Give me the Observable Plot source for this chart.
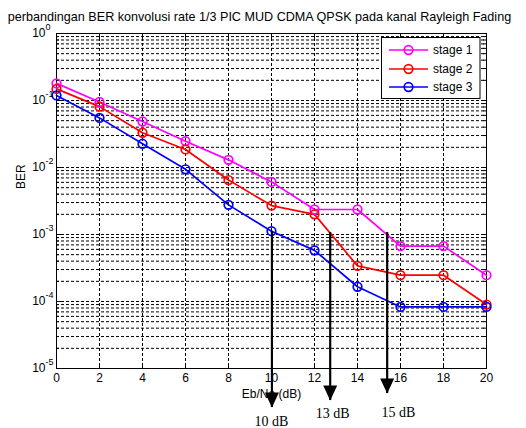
<!DOCTYPE html>
<html><head><meta charset="utf-8">
<script src="https://cdn.jsdelivr.net/npm/d3@7"></script>
<script src="https://cdn.jsdelivr.net/npm/@observablehq/plot@0.6"></script>
<style>html,body{margin:0;padding:0;background:#fff;} #chart{width:526px;height:428px;}</style>
</head><body><div id="chart"></div>
<script>
const titleText = "perbandingan BER konvolusi rate 1/3 PIC MUD CDMA QPSK pada kanal Rayleigh Fading";
const xLabel = "Eb/No (dB)";
const yLabel = "BER";
const ebno = [0, 2, 4, 6, 8, 10, 12, 14, 16, 18, 20];
const seriesNames = ["stage 1", "stage 2", "stage 3"];
const seriesColors = ["#ff00ff", "#ff0000", "#0000ff"];
const stage1 = [0.18, 0.095, 0.0486, 0.0247, 0.013, 0.0061, 0.00236, 0.00236, 0.00067, 0.00067, 0.000247];
const stage2 = [0.149, 0.081, 0.033, 0.0186, 0.0065, 0.0027, 0.002, 0.00034, 0.000247, 0.000247, 0.00009];
const stage3 = [0.119, 0.055, 0.0226, 0.0094, 0.00277, 0.00112, 0.00058, 0.000166, 0.000083, 0.000083, 0.000083];
const xTicks = [0, 2, 4, 6, 8, 10, 12, 14, 16, 18, 20];
const yTickValues = [1, 1e-1, 1e-2, 1e-3, 1e-4, 1e-5];
const yTickExponents = ["0", "-1", "-2", "-3", "-4", "-5"];
// annotation arrows
const arrowX = [10.02, 12.73, 15.38];
const arrowTop = [0.00112, 0.00107, 0.00107];
const arrowTip = [2.62e-6, 3.33e-6, 4.24e-6];
const arrowLabels = ["10 dB", "13 dB", "15 dB"];
const arrowLabelX = [10.0, 12.85, 15.9];
const arrowLabelY = [1.62e-6, 2.13e-6, 2.2e-6];

const allSeries = [stage1, stage2, stage3];
const data = [];
allSeries.forEach((s, k) => s.forEach((v, i) => data.push({x: ebno[i], y: v, series: seriesNames[k]})));

const minorY = [];
for (let e = -5; e < 0; e++) for (let m = 2; m <= 9; m++) minorY.push(m * Math.pow(10, e));
const gridY = minorY.concat(yTickValues.slice(1, 5));
const gridX = xTicks.slice(1, -1);

const arrows = arrowX.map((x, i) => ({x, top: arrowTop[i], tip: arrowTip[i], label: arrowLabels[i], lx: arrowLabelX[i], ly: arrowLabelY[i]}));
const yTicksData = yTickValues.map((v, i) => ({v, e: yTickExponents[i]}));

const downTriangle = {draw(ctx) { ctx.moveTo(0, 0); ctx.lineTo(-7, -15); ctx.lineTo(7, -15); ctx.closePath(); }};

const font = "Liberation Sans, Arial, sans-serif";
const W = 526, H = 428, mL = 56, mR = 40, mT = 33, mB = 60;
const fw = W - mL - mR, fh = H - mT - mB;

const svg = Plot.plot({
  width: W, height: H,
  marginLeft: mL, marginRight: mR, marginTop: mT, marginBottom: mB,
  style: {fontFamily: font, background: "#fff", overflow: "visible"},
  x: {domain: [0, 20], axis: null},
  y: {type: "log", domain: [1e-5, 1], axis: null},
  color: {domain: seriesNames, range: seriesColors},
  marks: [
    Plot.ruleY(gridY, {y: d => d, stroke: "#000", strokeWidth: 1, strokeDasharray: "3,2"}),
    Plot.ruleX(gridX, {x: d => d, stroke: "#000", strokeWidth: 1, strokeDasharray: "3,2"}),
    // inward ticks
    Plot.tickX(xTicks, {x: d => d, insetTop: fh - 5, stroke: "#000"}),
    Plot.tickX(xTicks, {x: d => d, insetBottom: fh - 5, stroke: "#000"}),
    Plot.tickY(yTickValues, {y: d => d, insetRight: fw - 5, stroke: "#000"}),
    Plot.tickY(yTickValues, {y: d => d, insetLeft: fw - 5, stroke: "#000"}),
    Plot.tickY(minorY, {y: d => d, insetRight: fw - 3, stroke: "#000"}),
    Plot.tickY(minorY, {y: d => d, insetLeft: fw - 3, stroke: "#000"}),
    Plot.frame({stroke: "#000", strokeWidth: 1}),
    Plot.line(data, {x: "x", y: "y", z: "series", stroke: "series", strokeWidth: 1.7}),
    Plot.dot(data, {x: "x", y: "y", stroke: "series", r: 4.3, strokeWidth: 1.7, fill: "none"}),
    // tick labels
    Plot.text(xTicks, {x: d => d, frameAnchor: "bottom", dy: 13, text: d => String(d), fontSize: 12, fill: "#000"}),
    Plot.text(yTicksData, {y: "v", frameAnchor: "left", dx: -11, textAnchor: "end", text: () => "10", fontSize: 12, fill: "#000"}),
    Plot.text(yTicksData, {y: "v", frameAnchor: "left", dx: -11, dy: -6, textAnchor: "start", text: "e", fontSize: 9, fill: "#000"}),
    // axis labels and title
    Plot.text([xLabel], {frameAnchor: "bottom", dy: 29, text: d => d, fontSize: 12, fill: "#000"}),
    Plot.text([yLabel], {frameAnchor: "left", dx: -35, dy: -12, rotate: -90, text: d => d, fontSize: 12, fill: "#000"}),
    Plot.text([titleText], {frameAnchor: "top", dx: -12, dy: -21, text: d => d, fontSize: 12.6, fill: "#000"}),
    // arrows
    Plot.ruleX(arrows, {x: "x", y1: "top", y2: "tip", stroke: "#000", strokeWidth: 2.2}),
    Plot.dot(arrows, {x: "x", y: "tip", symbol: downTriangle, fill: "#000", stroke: "none"}),
    Plot.text(arrows, {x: "lx", y: "ly", text: "label", fontFamily: "Liberation Serif, Times New Roman, serif", fontSize: 14, fill: "#000"})
  ]
});

// legend
const lg = d3.select(svg).append("g").attr("font-family", font).attr("font-size", 12).attr("text-anchor", "start");
lg.append("rect").attr("x", 381.5).attr("y", 37.5).attr("width", 98.5).attr("height", 61)
  .attr("fill", "#fff").attr("stroke", "#000").attr("stroke-width", 1);
const legendRowY = [50, 69, 87];
seriesNames.forEach((name, i) => {
  const y = legendRowY[i];
  lg.append("line").attr("x1", 389).attr("x2", 428).attr("y1", y).attr("y2", y)
    .attr("stroke", seriesColors[i]).attr("stroke-width", 1.7);
  lg.append("circle").attr("cx", 408.5).attr("cy", y).attr("r", 4.3)
    .attr("fill", "none").attr("stroke", seriesColors[i]).attr("stroke-width", 1.7);
  lg.append("text").attr("x", 433).attr("y", y).attr("dy", "0.35em").attr("text-anchor", "start").attr("fill", "#000").text(name);
});

document.getElementById("chart").appendChild(svg);
</script>
</body></html>
